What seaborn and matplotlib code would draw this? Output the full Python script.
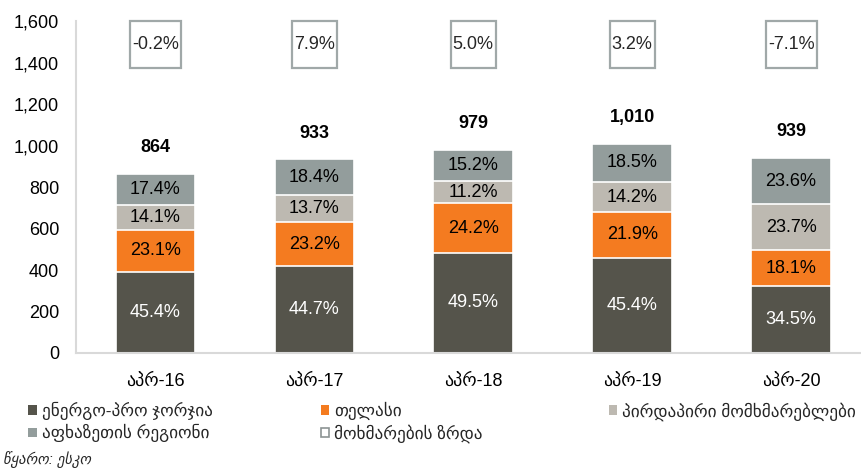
import numpy as np
import pandas as pd
import matplotlib
matplotlib.use("Agg")
import matplotlib.pyplot as plt
from matplotlib.patches import Patch
from matplotlib.ticker import FuncFormatter
import seaborn as sns

# data
periods = ["აპრ-16", "აპრ-17", "აპრ-18", "აპრ-19", "აპრ-20"]
totals = [864, 933, 979, 1010, 939]
growth = ["-0.2%", "7.9%", "5.0%", "3.2%", "-7.1%"]
share_energo = [45.4, 44.7, 49.5, 45.4, 34.5]
share_telasi = [23.1, 23.2, 24.2, 21.9, 18.1]
share_direct = [14.1, 13.7, 11.2, 14.2, 23.7]
share_abkhaz = [17.4, 18.4, 15.2, 18.5, 23.6]
growth_level = 1487

series_names = ["ენერგო-პრო ჯორჯია", "თელასი", "პირდაპირი მომხმარებლები", "აფხაზეთის რეგიონი"]
colors = ["#55544B", "#F47B20", "#BDB9B1", "#939D9C"]
growth_name = "მოხმარების ზრდა"
source_note = "წყარო: ესკო"

sns.set_theme(style="white")
plt.rcParams["font.family"] = ["Liberation Sans", "DejaVu Sans"]

shares = np.array([share_energo, share_telasi, share_direct, share_abkhaz])
seg = shares / shares.sum(axis=0) * np.array(totals)
cum = seg.cumsum(axis=0)

fig = plt.figure(figsize=(8.62, 4.7), dpi=100)
ax = fig.add_axes([0.088, 0.249, 0.912, 0.706])

# draw cumulative layers from the top down so they look stacked
for i in range(3, -1, -1):
    df = pd.DataFrame({"period": periods, "value": cum[i]})
    sns.barplot(data=df, x="period", y="value", color=colors[i], saturation=1,
                width=0.5, edgecolor="white", linewidth=1.2, errorbar=None, ax=ax)

# percentage labels inside segments
for j in range(len(periods)):
    for i in range(4):
        mid = cum[i, j] - seg[i, j] / 2
        ax.text(j, mid, f"{shares[i, j]:.1f}%", ha="center", va="center", fontsize=13,
                color="white" if i == 0 else "black")
    ax.annotate(f"{totals[j]:,}", (j, totals[j]), xytext=(0, 19), textcoords="offset points",
                ha="center", va="center", fontsize=13, fontweight="bold", color="black")
    ax.text(j, growth_level, "\n" + growth[j] + "\n", ha="center", va="center", fontsize=13,
            linespacing=0.65,
            bbox=dict(boxstyle="square,pad=0.12", facecolor="white", edgecolor="#A0A8A8", linewidth=1.6))

ax.set_ylim(0, 1600)
ax.set_xlim(-0.5, 4.446)
ax.set_yticks(range(0, 1601, 200))
ax.yaxis.set_major_formatter(FuncFormatter(lambda v, p: f"{v:,.0f}"))
ax.set_xlabel("")
ax.set_ylabel("")
ax.tick_params(axis="both", length=0, labelsize=13, colors="black")
ax.tick_params(axis="y", pad=12)
ax.tick_params(axis="x", pad=14)
for side in ["top", "right"]:
    ax.spines[side].set_visible(False)
for side in ["left", "bottom"]:
    ax.spines[side].set_color("#D9D9D9")
    ax.spines[side].set_linewidth(1.5)

# legend, placed column by column like the reference
h = [Patch(facecolor=c, edgecolor="none") for c in colors]
h_growth = Patch(facecolor="white", edgecolor="#8C9494", linewidth=1.2)
cols = [([h[0], h[3]], [series_names[0], series_names[3]], 0.033),
        ([h[1], h_growth], [series_names[1], growth_name], 0.372),
        ([h[2]], [series_names[2]], 0.706)]
for hs, ls, x0 in cols:
    fig.legend(hs, ls, loc="upper left", bbox_to_anchor=(x0, 0.145), frameon=False,
               fontsize=12.4, handlelength=0.48, handleheight=0.48, handletextpad=0.3,
               labelspacing=0.25, borderpad=0, borderaxespad=0)

fig.text(0.004, 0.005, source_note, fontsize=10.5, style="italic", ha="left", va="bottom")

fig.savefig("out.png", dpi=100)
